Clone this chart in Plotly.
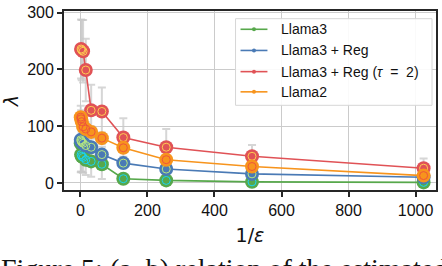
import plotly.graph_objects as go

# ---- data ----
x_vals = [1, 2, 4, 8, 16, 32, 64, 128, 256, 512, 1024]

llama3 = [70, 50, 47, 45, 41, 38, 33, 7.5, 4.5, 2, 1]
llama3_err = [51, 30, 28, 27, 27, 27, 26, 3, 2, 1, 1]

llama3_reg = [76, 74, 72, 70, 66, 63, 50, 35, 24.5, 16, 10]
llama3_reg_err = [25, 20, 18, 18, 16, 15, 14, 5, 4, 3, 2]

red_x = [2, 4, 8, 16, 32, 64, 128, 256, 512, 1024]
llama3_reg_tau = [236, 234, 232, 199, 128, 126, 80, 63, 47, 26]
llama3_reg_tau_err = [52, 53, 55, 55, 45, 42, 34, 32, 20, 17]

llama2 = [116, 113, 108, 99, 95, 90, 79, 62, 41, 29, 13]
llama2_err = [20, 15, 15, 12, 12, 10, 10, 5, 4, 3, 3]

names = ["Llama3", "Llama3 + Reg",
         "Llama3 + Reg (<i>τ</i>\u00a0\u00a0=\u00a0\u00a02)", "Llama2"]
colors = ["#57a84b", "#4a7ab5", "#e05256", "#f7941d"]
series = [
    (x_vals, llama3, llama3_err),
    (x_vals, llama3_reg, llama3_reg_err),
    (red_x, llama3_reg_tau, llama3_reg_tau_err),
    (x_vals, llama2, llama2_err),
]

x_ticks = [0, 200, 400, 600, 800, 1000]
y_ticks = [0, 100, 200, 300]

# plot-area geometry (pixels) used to place the hand-drawn legend
W, H = 442, 266
ML, MR, MT, MB = 64, 5, 4, 76
PW, PH = W - ML - MR, H - MT - MB


def px(xpix):
    return (xpix - ML) / PW


def py(ypix):
    return (H - MB - ypix) / PH


fig = go.Figure()

# error bars behind everything
for xs, ys, es in series:
    fig.add_trace(go.Scatter(
        x=xs, y=ys, mode="markers",
        marker=dict(size=1, color="rgba(0,0,0,0)"),
        error_y=dict(type="data", array=es, color="rgba(200,200,200,0.75)",
                     thickness=2, width=4),
        showlegend=False, hoverinfo="skip"))

# main series with ringed markers
for (xs, ys, es), c, n in zip(series, colors, names):
    fig.add_trace(go.Scatter(
        x=xs, y=ys, mode="lines+markers", name=n,
        line=dict(color=c, width=1.6),
        marker=dict(size=14, color=c, line=dict(width=0)),
        showlegend=False))
    fig.add_trace(go.Scatter(
        x=xs, y=ys, mode="markers",
        marker=dict(size=8, symbol="circle-open",
                    line=dict(color="rgba(255,255,255,0.85)", width=1)),
        showlegend=False, hoverinfo="skip"))

# hand-drawn legend (matplotlib style)
shapes = [dict(type="rect", xref="paper", yref="paper",
               x0=px(236), x1=px(433), y0=py(102), y1=py(12),
               fillcolor="rgba(255,255,255,0.9)",
               line=dict(color="#d6d6d6", width=1), layer="above")]
annotations = []
row_y = [23, 45, 67, 88]
for n, c, ry in zip(names, colors, row_y):
    shapes.append(dict(type="line", xref="paper", yref="paper",
                       x0=px(241), x1=px(268), y0=py(ry), y1=py(ry),
                       line=dict(color=c, width=1.6), layer="above"))
    shapes.append(dict(type="circle", xref="paper", yref="paper",
                       xsizemode="pixel", ysizemode="pixel",
                       xanchor=px(254.5), yanchor=py(ry),
                       x0=-2, x1=2, y0=-2, y1=2,
                       fillcolor=c, line=dict(width=0), layer="above"))
    annotations.append(dict(text=n, xref="paper", yref="paper",
                            x=px(280), y=py(ry), xanchor="left", yanchor="middle",
                            showarrow=False,
                            font=dict(family="Liberation Sans, Arial", size=14,
                                      color="#111")))

annotations.append(dict(
    text="Figure 5: (a–b) relation of the estimated <i>λ</i>",
    xref="paper", yref="paper", x=px(-1), y=py(253),
    xanchor="left", yanchor="top", showarrow=False,
    font=dict(family="Liberation Serif, Times New Roman", size=28, color="#111")))

axis_common = dict(
    showline=True, mirror=True, linecolor="#262626", linewidth=1.8,
    ticks="outside", ticklen=5, tickwidth=1.5, tickcolor="#262626",
    showgrid=True, gridcolor="#cbcbcb", gridwidth=1.3, zeroline=False,
    ticklabeloverflow="allow",
    tickfont=dict(family="Liberation Sans, Arial", size=16, color="#111"),
)

fig.update_layout(
    width=W, height=H,
    margin=dict(l=ML, r=MR, t=MT, b=MB),
    paper_bgcolor="white", plot_bgcolor="white",
    showlegend=False,
    xaxis=dict(range=[-49, 1061], tickvals=x_ticks,
               title=dict(text="1/<i>ε</i>", standoff=11,
                          font=dict(family="DejaVu Sans", size=19, color="#111")),
               **axis_common),
    yaxis=dict(range=[-12.4, 303], tickvals=y_ticks,
               title=dict(text="<i>λ</i>", standoff=10,
                          font=dict(family="DejaVu Sans", size=19, color="#111")),
               **axis_common),
    shapes=shapes,
    annotations=annotations,
)

fig.write_html("out.html", config={"displayModeBar": False},
               post_script="document.body.style.margin='0';")
